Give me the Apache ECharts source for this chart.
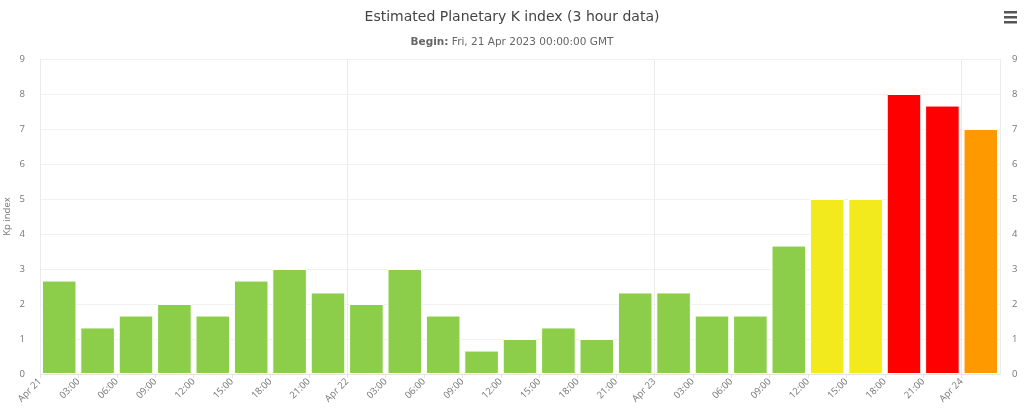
<!DOCTYPE html>
<html>
<head>
<meta charset="utf-8">
<script src="https://cdn.jsdelivr.net/npm/echarts@6/dist/echarts.min.js"></script>
<style>html,body{margin:0;padding:0;background:#fff}#c{width:1024px;height:419px}</style>
</head>
<body>
<div id="c"></div>
<script>
// 3-hour periods starting Fri, 21 Apr 2023 00:00 GMT
const categories = [
  "Apr 21 00:00","Apr 21 03:00","Apr 21 06:00","Apr 21 09:00","Apr 21 12:00","Apr 21 15:00","Apr 21 18:00","Apr 21 21:00",
  "Apr 22 00:00","Apr 22 03:00","Apr 22 06:00","Apr 22 09:00","Apr 22 12:00","Apr 22 15:00","Apr 22 18:00","Apr 22 21:00",
  "Apr 23 00:00","Apr 23 03:00","Apr 23 06:00","Apr 23 09:00","Apr 23 12:00","Apr 23 15:00","Apr 23 18:00","Apr 23 21:00",
  "Apr 24 00:00"
];
const kpValues = [2.67,1.33,1.67,2,1.67,2.67,3,2.33,2,3,1.67,0.67,1,1.33,1,2.33,2.33,1.67,1.67,3.67,5,5,8,7.67,7];
const tickLabels = ["Apr 21","03:00","06:00","09:00","12:00","15:00","18:00","21:00",
  "Apr 22","03:00","06:00","09:00","12:00","15:00","18:00","21:00",
  "Apr 23","03:00","06:00","09:00","12:00","15:00","18:00","21:00","Apr 24"];
const yTicks = [0,1,2,3,4,5,6,7,8,9];

function kpColor(v){
  const r = Math.round(v);
  if (r >= 8) return '#FF0000';
  if (r >= 7) return '#FF9900';
  if (r >= 5) return '#F3EA1D';
  return '#8CCD4A';
}

const FONT = '"DejaVu Sans", "Open Sans", sans-serif';
const LFONT = '"Open Sans", "DejaVu Sans", sans-serif';
const chart = echarts.init(document.getElementById('c'), null, {renderer:'canvas'});
const axisLabelStyle = {color:'#767676', fontSize:9.5, fontFamily:LFONT};
chart.setOption({
  animation:false,
  backgroundColor:'#fff',
  title:{
    text:'Estimated Planetary K index (3 hour data)',
    subtext:'{b|Begin:} Fri, 21 Apr 2023 00:00:00 GMT',
    left:'center', top:5, itemGap:13,
    textStyle:{color:'#444', fontSize:14, fontWeight:'normal', fontFamily:FONT},
    subtextStyle:{color:'#666', fontSize:10.5, fontFamily:FONT,
      rich:{b:{fontWeight:'bold', color:'#666', fontSize:10.5, fontFamily:FONT}}}
  },
  grid:{left:40, right:24, top:59, bottom:45, outerBoundsMode:'none', containLabel:false},
  xAxis:[
    {type:'category', data:categories, show:false, boundaryGap:true},
    {type:'value', min:0, max:tickLabels.length, interval:1, position:'bottom',
      axisLine:{show:true, lineStyle:{color:'#e3e3e3'}},
      axisTick:{show:true, length:4, lineStyle:{color:'#e3e3e3'}},
      splitLine:{show:false},
      axisLabel:{...axisLabelStyle, rotate:45, margin:6, showMaxLabel:false,
        formatter:(v)=> tickLabels[Math.round(v)] !== undefined ? tickLabels[Math.round(v)] : ''}},
    {type:'value', min:0, max:tickLabels.length, interval:8, position:'bottom', show:true,
      axisLine:{show:false}, axisTick:{show:false}, axisLabel:{show:false},
      splitLine:{show:true, lineStyle:{color:'#ebebeb', width:1}}}
  ],
  yAxis:[
    {type:'value', min:yTicks[0], max:yTicks[yTicks.length-1], interval:1, position:'left',
      name:'Kp index', nameLocation:'middle', nameGap:28, nameRotate:90, nameMoveOverlap:false,
      nameTextStyle:{color:'#767676', fontSize:9.5, fontFamily:LFONT},
      axisLine:{show:false}, axisTick:{show:false},
      axisLabel:{...axisLabelStyle, margin:15},
      splitLine:{show:true, lineStyle:{color:'#f1f1f1'}}},
    {type:'value', min:yTicks[0], max:yTicks[yTicks.length-1], interval:1, position:'right',
      axisLine:{show:false}, axisTick:{show:false},
      axisLabel:{...axisLabelStyle, margin:12},
      splitLine:{show:false}}
  ],
  graphic:[
    {type:'rect', left:1004, top:11, shape:{width:13, height:2.5}, style:{fill:'#555'}},
    {type:'rect', left:1004, top:16, shape:{width:13, height:2.5}, style:{fill:'#555'}},
    {type:'rect', left:1004, top:21, shape:{width:13, height:2.5}, style:{fill:'#555'}}
  ],
  series:[{
    type:'bar', xAxisIndex:0, yAxisIndex:0,
    barCategoryGap:'10%',
    data:kpValues.map(v=>({value:v, itemStyle:{color:kpColor(v)}})),
    itemStyle:{borderColor:'#fff', borderWidth:1}
  }]
});
</script>
</body>
</html>
